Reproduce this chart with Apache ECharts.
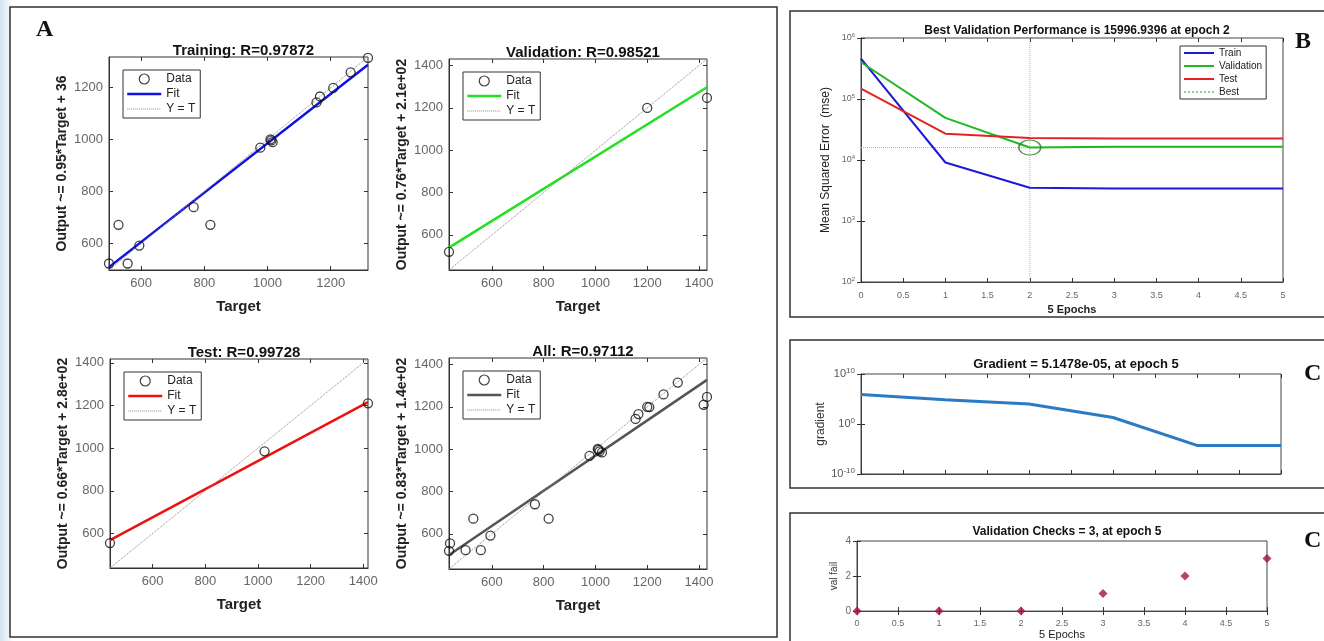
<!DOCTYPE html>
<html>
<head>
<meta charset="utf-8">
<title>Neural network training results</title>
<script src="https://cdn.jsdelivr.net/npm/echarts@6.0.0/dist/echarts.min.js"></script>
<style>
  html, body { margin: 0; padding: 0; }
  body {
    width: 1324px; height: 641px; overflow: hidden;
    background: linear-gradient(90deg, #d3e3ee 0px, #eef4f8 8px, #ffffff 14px);
  }
  #main { width: 1324px; height: 641px; }
</style>
</head>
<body>
<div id="main"></div>
<script>
// regression data (target, network output)
const trainTarget = [498, 528, 557, 594, 766, 819, 977, 1009, 1016, 1012, 1155, 1166, 1208, 1263, 1318];
const trainOutput = [523, 672, 523, 592, 740, 672, 969, 1001, 990, 997, 1143, 1166, 1199, 1259, 1315];
const valTarget = [434, 1200, 1431];
const valOutput = [520, 1200, 1247];
const testTarget = [438, 1025, 1418];
const testOutput = [555, 985, 1210];
const regNames = ['Training', 'Validation', 'Test', 'All'];
const regR = ['0.97872', '0.98521', '0.99728', '0.97112'];
const fitSlope = [0.95, 0.76, 0.66, 0.83];
const fitIntercept = [36, 210, 280, 140];
const fitSlopeText = ['0.95', '0.76', '0.66', '0.83'];
const fitInterceptText = ['36', '2.1e+02', '2.8e+02', '1.4e+02'];
const regTicks = [600, 800, 1000, 1200, 1400];

// training performance
const epochs = [0, 1, 2, 3, 4, 5];
const perfTrain = [4.6e5, 9.1e3, 3.5e3, 3.4e3, 3.4e3, 3.4e3];
const perfVal = [4.0e5, 4.9e4, 15996.9396, 1.65e4, 1.65e4, 1.65e4];
const perfTest = [1.48e5, 2.7e4, 2.3e4, 2.25e4, 2.25e4, 2.25e4];
const bestEpoch = 2;
const bestPerf = 15996.9396;

// training state
const gradient = [8e5, 7e4, 1e4, 2e1, 5.1478e-5, 5.1478e-5];
const valFail = [0, 0, 0, 1, 2, 3];

const chart = echarts.init(document.getElementById('main'));

const FONT = '"Liberation Sans", Arial, sans-serif';
const grids = [], xAxes = [], yAxes = [], series = [], titles = [], legends = [];
const tickStyle = { show: true, inside: true, length: 4, lineStyle: { color: '#333' } };
const noMarker = { opacity: 0 };

function pair(a, b) { return a.map((v, i) => [v, b[i]]); }

function logLabel(v) {
  return '{b|10}{s|' + Math.round(Math.log10(v)) + '}';
}

// one regression plot: data circles, fit line, Y = T
function regPanel(k, T, Y, box, color) {
  const gi = grids.length;
  grids.push({ left: box[0], top: box[1], width: box[2], height: box[3], show: true,
    borderColor: '#333', borderWidth: 1, backgroundColor: '#fff' });
  const lo = Math.min(...T, ...Y), hi = Math.max(...T, ...Y);
  const ticks = regTicks.filter(v => v > lo && v < hi);
  const xi = xAxes.length, yi = yAxes.length;
  const lbl = { customValues: ticks, color: '#666', fontSize: 13, fontFamily: FONT, formatter: v => String(v) };
  xAxes.push({ gridIndex: gi, type: 'value', min: lo, max: hi,
    axisLine: { lineStyle: { color: '#333' } }, axisTick: Object.assign({ customValues: ticks }, tickStyle),
    axisLabel: Object.assign({ margin: 7 }, lbl), splitLine: { show: false },
    name: 'Target', nameLocation: 'middle', nameGap: 29,
    nameTextStyle: { fontWeight: 'bold', fontSize: 15, color: '#222', fontFamily: FONT } });
  xAxes.push({ gridIndex: gi, type: 'value', position: 'top', min: lo, max: hi,
    axisLine: { show: false }, axisTick: Object.assign({ customValues: ticks }, tickStyle),
    axisLabel: { show: false }, splitLine: { show: false } });
  yAxes.push({ gridIndex: gi, type: 'value', min: lo, max: hi,
    axisLine: { lineStyle: { color: '#333' } }, axisTick: Object.assign({ customValues: ticks }, tickStyle),
    axisLabel: Object.assign({ margin: 6 }, lbl), splitLine: { show: false },
    name: 'Output ~= ' + fitSlopeText[k] + '*Target + ' + fitInterceptText[k],
    nameLocation: 'middle', nameRotate: 90, nameGap: 40,
    nameTextStyle: { fontWeight: 'bold', fontSize: 14, color: '#222', fontFamily: FONT } });
  yAxes.push({ gridIndex: gi, type: 'value', position: 'right', min: lo, max: hi,
    axisLine: { show: false }, axisTick: Object.assign({ customValues: ticks }, tickStyle),
    axisLabel: { show: false }, splitLine: { show: false } });

  const s = fitSlope[k], b = fitIntercept[k];
  series.push({ name: 'Data', type: 'scatter', xAxisIndex: xi, yAxisIndex: yi,
    data: pair(T, Y), symbol: 'circle', symbolSize: 9, z: 3,
    itemStyle: { color: 'rgba(0,0,0,0)', borderColor: '#111', borderWidth: 1.3 } });
  series.push({ name: 'Fit', type: 'line', xAxisIndex: xi, yAxisIndex: yi,
    data: [[lo, s * lo + b], [hi, s * hi + b]], symbol: 'none', z: 2,
    lineStyle: { color: color, width: 2.5 } });
  series.push({ name: 'Y = T', type: 'line', xAxisIndex: xi, yAxisIndex: yi,
    data: [[lo, lo], [hi, hi]], symbol: 'none', z: 2,
    lineStyle: { color: '#888', width: 1, type: 'dotted' } });

  titles.push({ text: regNames[k] + ': R=' + regR[k], left: box[0] + box[2] / 2, top: box[1] - 19,
    textAlign: 'center', textStyle: { fontSize: 15, fontWeight: 'bold', color: '#111', fontFamily: FONT } });
  legends.push({ orient: 'vertical', left: box[0] + 14, top: box[1] + 13, selectedMode: false,
    backgroundColor: '#fff', borderColor: '#333', borderWidth: 1, padding: [3, 5, 3, 3],
    itemWidth: 34, itemHeight: 10, itemGap: 3,
    textStyle: { fontSize: 12, color: '#222', fontFamily: FONT },
    data: [
      { name: 'Data', itemStyle: { color: 'rgba(0,0,0,0)', borderColor: '#111', borderWidth: 1.2 } },
      { name: 'Fit', itemStyle: noMarker, lineStyle: { color: color, width: 2.5 } },
      { name: 'Y = T', itemStyle: noMarker, lineStyle: { color: '#888', width: 1, type: 'dotted' } }
    ] });
}

regPanel(0, trainTarget, trainOutput, [109, 57, 259, 213], '#1010e0');
regPanel(1, valTarget, valOutput, [449, 59, 258, 211], '#22e022');
regPanel(2, testTarget, testOutput, [110, 359, 258, 209], '#ee1111');
regPanel(3, trainTarget.concat(valTarget, testTarget), trainOutput.concat(valOutput, testOutput),
  [449, 358, 258, 211], '#555555');

// generic helper for the right-hand plots
function addPlot(box, xOpt, yOpt) {
  const gi = grids.length;
  grids.push({ left: box[0], top: box[1], width: box[2], height: box[3], show: true,
    borderColor: '#444', borderWidth: 1, backgroundColor: '#fff' });
  const xi = xAxes.length, yi = yAxes.length;
  const baseX = { gridIndex: gi, type: 'value', min: 0, max: 5, interval: 0.5, splitLine: { show: false } };
  xAxes.push(Object.assign({}, baseX, { axisLine: { lineStyle: { color: '#444' } }, axisTick: tickStyle }, xOpt));
  xAxes.push(Object.assign({}, baseX, { position: 'top', axisLine: { show: false }, axisTick: tickStyle,
    axisLabel: { show: false } }));
  const baseY = Object.assign({ gridIndex: gi, splitLine: { show: false } }, yOpt.scale);
  yAxes.push(Object.assign({}, baseY, { axisLine: { lineStyle: { color: '#444' } }, axisTick: tickStyle }, yOpt.main));
  yAxes.push(Object.assign({}, baseY, { position: 'right', axisLine: { show: false }, axisTick: tickStyle,
    axisLabel: { show: false } }));
  return [xi, yi];
}

const smallLbl = { color: '#666', fontSize: 9, fontFamily: FONT };
const logRich = { b: { fontSize: 9, color: '#666', fontFamily: FONT }, s: { fontSize: 6, color: '#666', padding: [0, 0, 6, 0], fontFamily: FONT } };

// B: performance
const pB = addPlot([861, 38, 422, 244],
  { axisLabel: Object.assign({ margin: 9 }, smallLbl), name: '5 Epochs', nameLocation: 'middle', nameGap: 22,
    nameTextStyle: { fontWeight: 'bold', fontSize: 11, color: '#222', fontFamily: FONT } },
  { scale: { type: 'log', logBase: 10, min: 100, max: 1e6, interval: 1 },
    main: { axisLabel: { formatter: logLabel, rich: logRich, margin: 6 },
      name: 'Mean Squared Error  (mse)', nameLocation: 'middle', nameRotate: 90, nameGap: 29,
      nameTextStyle: { fontSize: 12, color: '#222', fontFamily: FONT } } });
const perfSeries = [['Train', perfTrain, '#1a1ad8'], ['Validation', perfVal, '#22b822'], ['Test', perfTest, '#e52222']];
perfSeries.forEach(p => {
  series.push({ name: p[0], type: 'line', xAxisIndex: pB[0], yAxisIndex: pB[1], data: pair(epochs, p[1]),
    symbol: 'none', lineStyle: { color: p[2], width: 2 }, z: 3 });
});
series.push({ name: 'Best', type: 'line', xAxisIndex: pB[0], yAxisIndex: pB[1],
  data: [[bestEpoch, 100], [bestEpoch, 1e6]], symbol: 'none', z: 2,
  lineStyle: { color: '#9cc49c', width: 1, type: 'dotted' } });
series.push({ name: 'Best', type: 'line', xAxisIndex: pB[0], yAxisIndex: pB[1],
  data: [[0, bestPerf], [5, bestPerf]], symbol: 'none', z: 2,
  lineStyle: { color: '#9cc49c', width: 1, type: 'dotted' } });
series.push({ name: 'bestMark', type: 'scatter', xAxisIndex: pB[0], yAxisIndex: pB[1],
  data: [[bestEpoch, bestPerf]], symbol: 'circle', symbolSize: [22, 15], z: 4,
  itemStyle: { color: 'rgba(0,0,0,0)', borderColor: '#2a7a2a', borderWidth: 1.3 } });
titles.push({ text: 'Best Validation Performance is ' + bestPerf + ' at epoch ' + bestEpoch,
  left: 1072, top: 20, textAlign: 'center',
  textStyle: { fontSize: 12, fontWeight: 'bold', color: '#111', fontFamily: FONT } });
legends.push({ orient: 'vertical', left: 1180, top: 46, selectedMode: false,
  backgroundColor: '#fff', borderColor: '#333', borderWidth: 1, padding: [2, 4, 2, 3],
  itemWidth: 30, itemHeight: 9, itemGap: 3,
  textStyle: { fontSize: 10, color: '#222', fontFamily: FONT },
  data: ['Train', 'Validation', 'Test', 'Best'].map(n => ({ name: n, itemStyle: noMarker })) });

// C: gradient
const pC = addPlot([861, 374, 420, 100],
  { axisLabel: { show: false } },
  { scale: { type: 'log', logBase: 10, min: 1e-10, max: 1e10, interval: 10 },
    main: { axisLabel: { formatter: logLabel, margin: 6,
        rich: { b: { fontSize: 11, color: '#555', fontFamily: FONT }, s: { fontSize: 8, color: '#555', padding: [0, 0, 7, 0], fontFamily: FONT } } },
      name: 'gradient', nameLocation: 'middle', nameRotate: 90, nameGap: 34,
      nameTextStyle: { fontSize: 12, color: '#333', fontFamily: FONT } } });
series.push({ name: 'gradient', type: 'line', xAxisIndex: pC[0], yAxisIndex: pC[1],
  data: pair(epochs, gradient), symbol: 'none', lineStyle: { color: '#2b7bc4', width: 3 } });
titles.push({ text: 'Gradient = ' + gradient[5].toExponential(4).replace('e-5', 'e-05') + ', at epoch 5',
  left: 1071, top: 353, textAlign: 'center',
  textStyle: { fontSize: 13, fontWeight: 'bold', color: '#111', fontFamily: FONT } });

// C: validation checks
const pD = addPlot([857, 541, 410, 71],
  { axisLabel: smallLbl, name: '5 Epochs', nameLocation: 'middle', nameGap: 17,
    nameTextStyle: { fontSize: 11, color: '#222', fontFamily: FONT } },
  { scale: { type: 'value', min: 0, max: 4, interval: 2 },
    main: { axisLabel: { color: '#666', fontSize: 10, fontFamily: FONT, margin: 6 },
      name: 'val fail', nameLocation: 'middle', nameRotate: 90, nameGap: 18,
      nameTextStyle: { fontSize: 10, color: '#333', fontFamily: FONT } } });
series.push({ name: 'val fail', type: 'scatter', xAxisIndex: pD[0], yAxisIndex: pD[1],
  data: pair(epochs, valFail), symbol: 'diamond', symbolSize: 9, z: 4,
  itemStyle: { color: '#a3153a' } });
titles.push({ text: 'Validation Checks = ' + valFail[5] + ', at epoch 5',
  left: 1062, top: 521, textAlign: 'center',
  textStyle: { fontSize: 12, fontWeight: 'bold', color: '#111', fontFamily: FONT } });

// panel frames and letters
const frame = (x, y, w, h) => ({ type: 'rect', shape: { x: x, y: y, width: w, height: h }, z: -10,
  style: { fill: '#fff', stroke: '#333', lineWidth: 1.5 } });
const letter = (t, x, y) => ({ type: 'text', x: x, y: y, z: 10,
  style: { text: t, fontSize: 24, fontWeight: 'bold', fontFamily: '"Liberation Serif", "DejaVu Serif", serif', fill: '#111' } });

chart.setOption({
  animation: false,
  title: titles,
  legend: legends,
  grid: grids,
  xAxis: xAxes,
  yAxis: yAxes,
  series: series,
  graphic: [
    frame(10, 7, 767, 630), frame(790, 11, 560, 306), frame(790, 340, 560, 148), frame(790, 513, 560, 140),
    letter('A', 36, 18), letter('B', 1295, 30), letter('C', 1304, 362), letter('C', 1304, 529)
  ]
});
</script>
</body>
</html>
